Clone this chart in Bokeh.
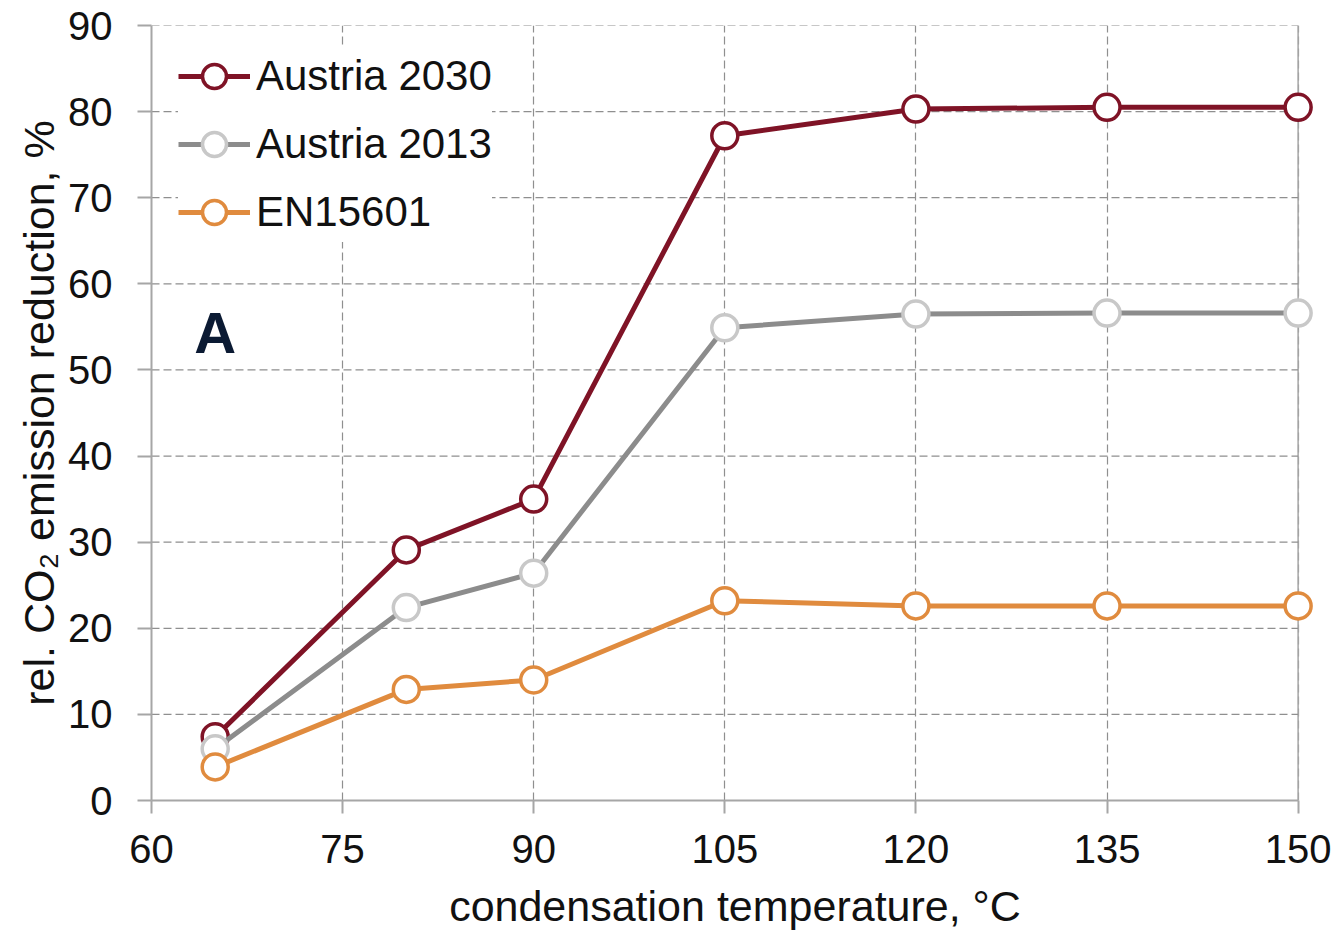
from bokeh.plotting import figure
from bokeh.models import Range1d, FixedTicker, Legend, LegendItem, Span, Label
from bokeh.embed import file_html
from bokeh.resources import INLINE

# condensation temperature, degC
temps = [65, 80, 90, 105, 120, 135, 150]
# relative CO2 emission reduction, %
austria_2030 = [7.4, 29.1, 35.0, 77.2, 80.3, 80.5, 80.5]
austria_2013 = [6.0, 22.4, 26.4, 54.9, 56.5, 56.6, 56.6]
en15601 = [3.9, 12.9, 14.0, 23.2, 22.6, 22.6, 22.6]

series_names = ["Austria 2030", "Austria 2013", "EN15601"]
line_colors = ["#7f1326", "#8c8c8c", "#e08b3e"]
marker_colors = ["#7f1326", "#c8c8c8", "#e08b3e"]

x_ticks = [60, 75, 90, 105, 120, 135, 150]
y_ticks = [0, 10, 20, 30, 40, 50, 60, 70, 80, 90]

FONT = "Liberation Sans"
GRID = "#8f8f8f"
AXIS = "#a6a6a6"
TEXT = "#111111"

p = figure(width=1337, height=933, output_backend="svg", toolbar_location=None,
           x_range=Range1d(60, 151.6), y_range=Range1d(0, 90),
           min_border_left=151, min_border_right=19, min_border_top=25,
           min_border_bottom=133)
p.outline_line_color = None
p.background_fill_color = "white"

# vertical dashed grid
p.xgrid.ticker = FixedTicker(ticks=x_ticks)
p.xgrid.grid_line_color = GRID
p.xgrid.grid_line_dash = "8 4"
p.xgrid.grid_line_width = 1.2
p.ygrid.visible = False

# horizontal dashed grid, kept inside the 60..150 span
p.segment(x0=[x_ticks[0]] * len(y_ticks), y0=y_ticks,
          x1=[x_ticks[-1]] * len(y_ticks), y1=y_ticks,
          line_color=GRID, line_dash="8 4", line_width=1.2)

# solid right edge of the plot area
p.add_layout(Span(location=x_ticks[-1], dimension="height", line_color=AXIS,
                  line_width=1.5, level="underlay"))

# axes
for ax in (p.xaxis[0], p.yaxis[0]):
    ax.axis_line_color = AXIS
    ax.axis_line_width = 2
    ax.major_tick_line_color = AXIS
    ax.major_tick_line_width = 2
    ax.major_tick_in = 0
    ax.minor_tick_line_color = None
    ax.major_label_text_font = FONT
    ax.major_label_text_font_size = "40px"
    ax.major_label_text_color = TEXT
    ax.axis_label_text_font = FONT
    ax.axis_label_text_font_size = "43px"
    ax.axis_label_text_font_style = "normal"
    ax.axis_label_text_color = TEXT

p.xaxis.ticker = FixedTicker(ticks=x_ticks)
p.xaxis.bounds = (x_ticks[0], x_ticks[-1])
p.xaxis.major_tick_out = 13
p.xaxis.major_label_standoff = 21
p.xaxis.axis_label = "condensation temperature, °C"
p.xaxis.axis_label_standoff = 16

p.yaxis.ticker = FixedTicker(ticks=y_ticks)
p.yaxis.bounds = (y_ticks[0], y_ticks[-1])
p.yaxis.major_tick_out = 14
p.yaxis.major_label_standoff = 25
p.yaxis.axis_label = "rel. CO₂ emission reduction, %"
p.yaxis.axis_label_standoff = 2

# series: line plus open circle markers
items = []
for name, vals, lc, mc in zip(series_names, [austria_2030, austria_2013, en15601],
                              line_colors, marker_colors):
    r_line = p.line(temps, vals, line_color=lc, line_width=5)
    r_mark = p.scatter(temps, vals, marker="circle", size=26, fill_color="white",
                       line_color=mc, line_width=3.5)
    items.append(LegendItem(label=name, renderers=[r_line, r_mark]))

legend = Legend(items=items, location=(27, 558), margin=0, padding=10, spacing=8,
                glyph_width=72, glyph_height=60, label_standoff=6,
                label_text_font=FONT, label_text_font_size="42px",
                label_text_color=TEXT,
                background_fill_color="white", background_fill_alpha=1.0,
                border_line_color=None)
p.add_layout(legend)

# panel letter
p.add_layout(Label(x=65, y=54.3, text="A", text_font=FONT, text_font_size="58px",
                   text_font_style="bold", text_color="#0b1a33",
                   text_align="center", text_baseline="middle"))

open("out.html", "w").write(file_html(p, INLINE))
